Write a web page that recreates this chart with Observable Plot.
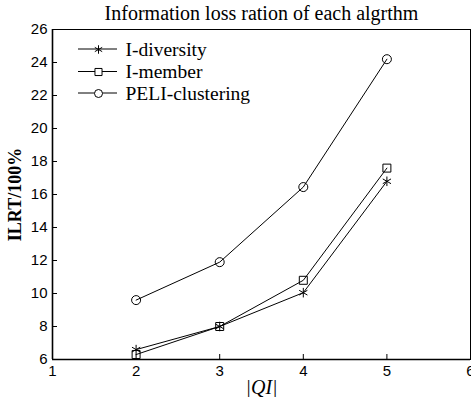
<!DOCTYPE html>
<html><head><meta charset="utf-8">
<script src="https://cdn.jsdelivr.net/npm/d3@7"></script>
<script src="https://cdn.jsdelivr.net/npm/@observablehq/plot@0.6"></script>
<style>body{margin:0;background:#fff}</style>
</head><body><div id="chart"></div>
<script>
const qi = [2, 3, 4, 5];
const series = ["I-diversity", "I-member", "PELI-clustering"];
const lDiversity = [6.6, 8.0, 10.05, 16.8];
const lMember = [6.3, 8.0, 10.8, 17.6];
const peliClustering = [9.6, 11.9, 16.45, 24.2];
const symbols = ["asterisk", "square", "circle"];
const xTicks = [1, 2, 3, 4, 5, 6];
const yTicks = [6, 8, 10, 12, 14, 16, 18, 20, 22, 24, 26];
const titleText = "Information loss ration of each algrthm";
const xLabel = "|QI|";
const yLabel = "ILRT/100%";

const values = [lDiversity, lMember, peliClustering];
const data = [];
series.forEach((s, i) => qi.forEach((q, j) => data.push({series: s, qi: q, v: values[i][j], symbol: symbols[i]})));

const W = 471, H = 397, mL = 52, mR = 1, mT = 29, mB = 38;
const innerW = W - mL - mR, innerH = H - mT - mB;
const serif = "'Liberation Serif', 'Times New Roman', serif";
const sans = "'Liberation Sans', Arial, sans-serif";

const legendRows = [20, 42.5, 64];
const legendMarks = [];
series.forEach((s, i) => {
  legendMarks.push(Plot.dot([s], {frameAnchor: "top-left", dx: 46, dy: legendRows[i], symbol: () => symbols[i], r: 4, stroke: "black", fill: "white", strokeWidth: 1}));
  legendMarks.push(Plot.text([s], {frameAnchor: "top-left", dx: 73, dy: legendRows[i], text: d => d, textAnchor: "start", lineAnchor: "middle", fontSize: 19.5, fontFamily: serif, fill: "black"}));
});

const plot = Plot.plot({
  width: W, height: H,
  marginLeft: mL, marginRight: mR, marginTop: mT, marginBottom: mB,
  style: {background: "white", color: "black", overflow: "visible"},
  x: {domain: [1, 6], ticks: xTicks, label: null},
  y: {domain: [6, 26], ticks: yTicks, label: null},
  symbol: {domain: symbols, range: symbols},
  marks: [
    Plot.frame({stroke: "black", strokeWidth: 1}),
    Plot.axisX(xTicks, {tickSize: 0, tickPadding: 6, fontSize: 15, fontFamily: sans, fill: "black"}),
    Plot.axisY(yTicks, {tickSize: 0, tickPadding: 5, fontSize: 15, fontFamily: sans, fill: "black"}),
    Plot.tickX(xTicks, {x: d => d, insetTop: innerH - 5, stroke: "black"}),
    Plot.tickY(yTicks, {y: d => d, insetRight: innerW - 5, stroke: "black"}),
    Plot.ruleY([6], {stroke: "black", strokeWidth: 1.6}),
    Plot.ruleX([1], {stroke: "black", strokeWidth: 1.6}),
    Plot.line(data, {x: "qi", y: "v", z: "series", stroke: "black", strokeWidth: 1}),
    Plot.dot(data, {x: "qi", y: "v", symbol: "symbol", r: 4.5, stroke: "black", fill: "none", strokeWidth: 1}),
    Plot.text([titleText], {frameAnchor: "top", dy: -16, text: d => d, lineAnchor: "middle", fontSize: 20, fontFamily: serif, fill: "black"}),
    Plot.text([xLabel], {frameAnchor: "bottom", dy: 28, text: d => d, lineAnchor: "middle", fontSize: 20, fontStyle: "italic", fontFamily: serif, fill: "black"}),
    Plot.text([yLabel], {frameAnchor: "left", dx: -37, rotate: -90, text: d => d, textAnchor: "middle", lineAnchor: "middle", fontSize: 18, fontWeight: "bold", fontFamily: serif, fill: "black"}),
    ...legendMarks
  ]
});

// legend line segments (pixel layout, not data)
const svg = d3.select(plot);
legendRows.forEach(r => {
  svg.append("line").attr("x1", 78).attr("x2", 117).attr("y1", mT + r).attr("y2", mT + r).attr("stroke", "black").attr("stroke-width", 1).lower();
});
document.getElementById("chart").append(plot);
</script>
</body></html>
